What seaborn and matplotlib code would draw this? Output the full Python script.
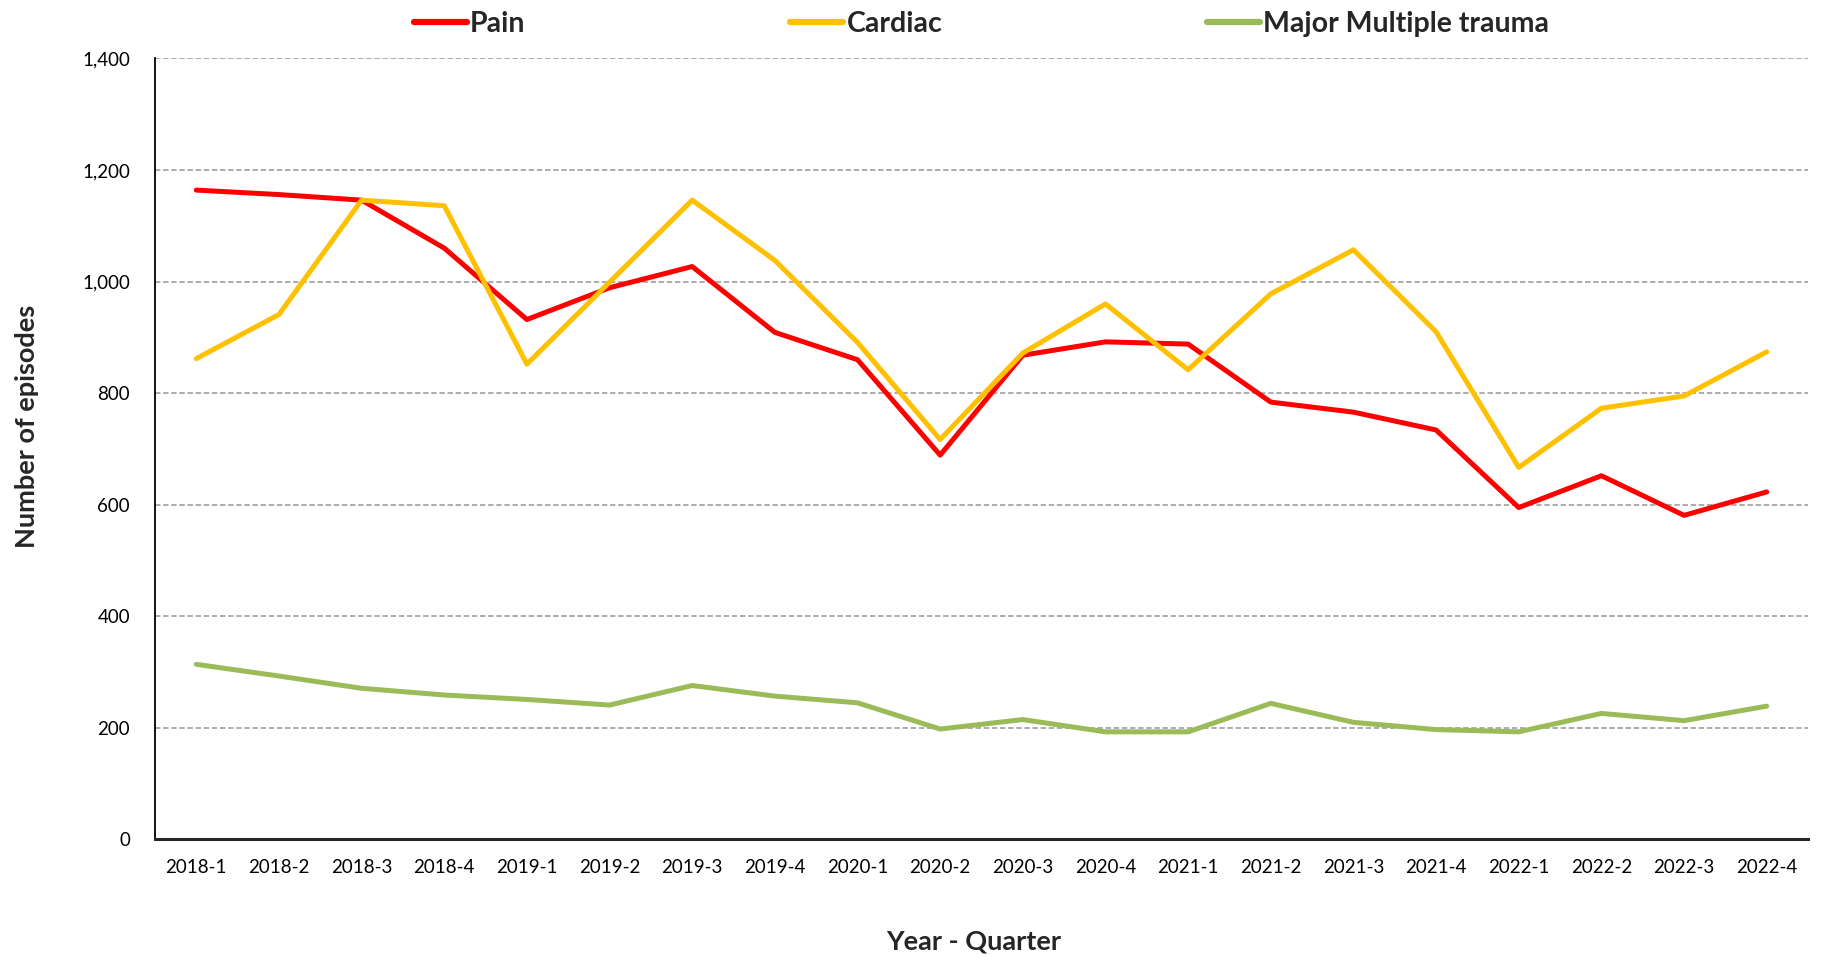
import matplotlib
matplotlib.use("Agg")
import matplotlib.pyplot as plt
import seaborn as sns
import pandas as pd

quarters = ["2018-1", "2018-2", "2018-3", "2018-4", "2019-1", "2019-2", "2019-3", "2019-4",
            "2020-1", "2020-2", "2020-3", "2020-4", "2021-1", "2021-2", "2021-3", "2021-4",
            "2022-1", "2022-2", "2022-3", "2022-4"]
pain = [1164, 1156, 1146, 1060, 932, 989, 1027, 909, 860, 689, 868, 892, 888, 784,
        766, 734, 595, 652, 581, 623]
cardiac = [862, 941, 1146, 1136, 852, 999, 1146, 1038, 891, 717, 872, 960, 842, 978,
           1057, 910, 667, 773, 795, 874]
trauma = [314, 293, 271, 259, 251, 241, 276, 257, 245, 198, 215, 193, 193, 244,
          210, 197, 193, 226, 213, 239]
series_names = ["Pain", "Cardiac", "Major Multiple trauma"]
colors = ["#FF0000", "#FFC000", "#9BBB59"]

sns.set_style("white")
plt.rcParams["font.family"] = ["Lato", "DejaVu Sans"]

df = pd.DataFrame({
    "quarter": quarters * 3,
    "episodes": pain + cardiac + trauma,
    "series": sum([[n] * len(quarters) for n in series_names], []),
})

fig = plt.figure(figsize=(18.25, 9.58), dpi=100)
ax = fig.add_axes([0.0849, 0.1237, 0.9058, 0.8153])

sns.lineplot(data=df, x="quarter", y="episodes", hue="series", hue_order=series_names,
             palette=dict(zip(series_names, colors)), linewidth=3.6, sort=False,
             solid_capstyle="round", ax=ax, legend=False, zorder=3)

ax.set_xlim(-0.5, len(quarters) - 0.5)
ax.set_ylim(0, 1400)
ax.set_yticks(range(0, 1401, 200))
ax.set_yticklabels([f"{v:,}" for v in range(0, 1401, 200)])
ax.yaxis.grid(True, linestyle=(0, (3, 1.5)), color="#a6a6a6", linewidth=1.3, zorder=0)
ax.xaxis.grid(False)

for side in ["top", "right"]:
    ax.spines[side].set_visible(False)
ax.spines["left"].set_color("#000000")
ax.spines["left"].set_linewidth(1.3)
ax.spines["bottom"].set_color("#262626")
ax.spines["bottom"].set_linewidth(2.2)
ax.tick_params(axis="both", length=0, labelsize=13.5, colors="#000000")
ax.tick_params(axis="y", pad=18)
ax.tick_params(axis="x", pad=14)

ax.set_xlabel("Year - Quarter", fontsize=19.5, fontweight="bold")
ax.xaxis.set_label_coords(0.495, -0.115)
ax.set_ylabel("Number of episodes", fontsize=19.5, fontweight="bold")
ax.yaxis.set_label_coords(-0.070, 0.529)

handles = [plt.Line2D([], [], color=c, linewidth=4.5, solid_capstyle="round") for c in colors]
ax.legend(handles, series_names, loc="center", bbox_to_anchor=(0.5, 1.044), ncol=3,
          frameon=False, prop={"size": 20.5, "weight": "bold"}, handlelength=1.85,
          handletextpad=0.12, columnspacing=9.3)

fig.savefig("out.png", dpi=100)
